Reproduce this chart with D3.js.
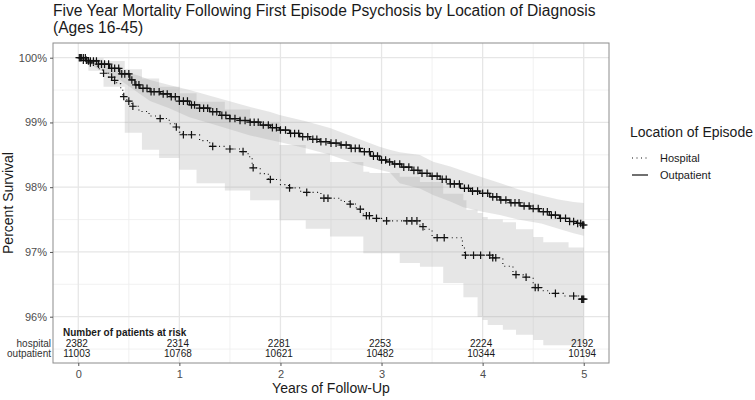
<!DOCTYPE html>
<html><head><meta charset="utf-8">
<script src="https://cdn.jsdelivr.net/npm/d3@7"></script>
<style>body{margin:0;background:#fff}svg{font-family:"Liberation Sans",Arial,sans-serif}</style>
</head><body><svg id="c" width="755" height="400"></svg>
<script>
// ---- data ----
const xTicks = [0, 1, 2, 3, 4, 5];
const yTicks = [96, 97, 98, 99, 100];
const seriesNames = ["Hospital", "Outpatient"];
const riskGroups = ["hospital", "outpatient"];
const riskHospital = [2382, 2314, 2281, 2253, 2224, 2192];
const riskOutpatient = [11003, 10768, 10621, 10482, 10344, 10194];

const hospT = [0,0.05,0.1,0.15,0.2,0.24,0.3,0.34,0.38,0.42,0.44,0.48,0.53,0.6,0.7,0.78,0.9,0.96,1.0,1.03,1.2,1.3,1.45,1.6,1.68,1.72,1.8,1.88,2.0,2.08,2.2,2.4,2.6,2.68,2.75,2.82,2.9,3.0,3.38,3.42,3.5,3.8,3.82,4.1,4.2,4.3,4.4,4.5,4.6,4.65,4.8,4.95,5.0];
const hospS = [100,99.96,99.92,99.87,99.83,99.76,99.70,99.65,99.60,99.52,99.40,99.33,99.25,99.17,99.10,99.06,98.98,98.93,98.85,98.81,98.72,98.63,98.59,98.55,98.47,98.30,98.21,98.12,98.04,97.99,97.92,97.83,97.78,97.74,97.66,97.56,97.52,97.48,97.39,97.35,97.22,97.09,96.95,96.91,96.78,96.65,96.61,96.45,96.40,96.36,96.32,96.27,96.27];

const outT = [0,0.1,0.2,0.31,0.41,0.51,0.56,0.61,0.71,0.81,0.91,1.0,1.1,1.2,1.3,1.4,1.5,1.6,1.7,1.8,1.9,1.99,2.09,2.19,2.29,2.39,2.49,2.59,2.69,2.79,2.89,2.98,3.05,3.11,3.2,3.3,3.38,3.48,3.58,3.68,3.78,3.88,3.97,4.07,4.17,4.27,4.37,4.47,4.56,4.66,4.76,4.86,4.93,4.99,5.0];
const outS = [100,99.95,99.9,99.836,99.75,99.656,99.58,99.527,99.475,99.44,99.398,99.33,99.27,99.22,99.166,99.11,99.06,99.03,99.004,98.96,98.92,98.883,98.83,98.78,98.74,98.703,98.68,98.652,98.60,98.548,98.48,98.42,98.39,98.358,98.31,98.26,98.215,98.17,98.122,98.05,97.983,97.94,97.906,97.85,97.802,97.76,97.71,97.67,97.622,97.57,97.52,97.47,97.44,97.416,97.416];

const outBandT = [0,0.2,0.41,0.6,0.71,0.9,1.1,1.4,1.7,1.9,1.99,2.25,2.49,2.75,2.98,3.08,3.18,3.38,3.51,3.68,3.81,4.0,4.17,4.35,4.58,4.75,4.9,5.0];
const outLo = [100,99.82,99.66,99.45,99.33,99.22,99.08,98.94,98.80,98.73,98.70,98.60,98.50,98.36,98.27,98.23,98.06,97.98,97.88,97.78,97.69,97.62,97.57,97.50,97.44,97.36,97.29,97.25];
const outHi = [100,99.97,99.81,99.72,99.656,99.58,99.50,99.37,99.24,99.16,99.115,99.02,98.914,98.76,98.625,98.58,98.54,98.497,98.394,98.32,98.25,98.15,98.065,97.97,97.87,97.81,97.77,97.756];

const hospBandT = [0,0.1,0.25,0.46,0.63,0.8,1.0,1.17,1.45,1.7,1.99,2.25,2.49,2.82,2.88,3.18,3.38,3.61,3.81,3.84,3.95,4.0,4.05,4.2,4.33,4.5,4.6,4.85,5.0];
const hospLo = [100,99.8,99.55,98.84,98.58,98.45,98.27,98.06,97.95,97.80,97.49,97.36,97.24,96.98,96.98,96.83,96.77,96.52,96.30,96.30,96.0,95.95,95.87,95.8,95.72,95.64,95.56,95.56,95.56];
const hospHi = [100,99.99,99.95,99.82,99.68,99.55,99.45,99.32,99.2,99.0,98.65,98.52,98.39,98.24,98.22,98.16,98.08,97.9,97.80,97.65,97.6,97.54,97.5,97.46,97.35,97.23,97.15,97.07,97.03];

const hospCensor = [0.02,0.05,0.08,0.12,0.25,0.33,0.36,0.45,0.5,0.54,0.81,0.97,1.04,1.12,1.33,1.5,1.63,1.73,1.9,2.09,2.26,2.43,2.47,2.69,2.79,2.85,2.88,2.95,3.05,3.25,3.3,3.35,3.41,3.55,3.62,3.83,3.91,3.98,4.07,4.1,4.13,4.33,4.43,4.52,4.55,4.72,4.9,4.98,4.99,5.0];
const outCensor = [0.01,0.03,0.05,0.07,0.1,0.12,0.15,0.18,0.2,0.23,0.26,0.3,0.33,0.36,0.4,0.43,0.46,0.5,0.53,0.57,0.6,0.64,0.68,0.72,0.75,0.8,0.84,0.88,0.92,0.96,1.0,1.04,1.08,1.12,1.15,1.2,1.24,1.28,1.33,1.37,1.42,1.46,1.5,1.55,1.6,1.65,1.7,1.74,1.78,1.83,1.88,1.92,1.96,2.0,2.05,2.1,2.14,2.18,2.22,2.27,2.32,2.36,2.4,2.45,2.5,2.55,2.6,2.65,2.7,2.74,2.78,2.83,2.88,2.92,2.96,3.0,3.04,3.08,3.13,3.18,3.22,3.27,3.32,3.36,3.4,3.45,3.5,3.55,3.6,3.64,3.68,3.72,3.77,3.82,3.86,3.9,3.95,4.0,4.05,4.1,4.14,4.18,4.23,4.28,4.32,4.36,4.41,4.46,4.5,4.55,4.6,4.64,4.68,4.72,4.77,4.82,4.86,4.9,4.94,4.97,4.99,5.0];

// ---- layout ----
const svg = d3.select("#c");
const L = 53, R = 609, T = 43, B = 363;
const x = d3.scaleLinear().domain([-0.25, 5.25]).range([L, R]);
const y = d3.scaleLinear().domain([95.285, 100.227]).range([B, T]);

svg.append("rect").attr("width",755).attr("height",400).attr("fill","#fff");

// grid
const g = svg.append("g");
const minorX = d3.range(-0.5, 5.5, 1).filter(v => v > -0.25);
const minorY = [95.5, 96.5, 97.5, 98.5, 99.5];
g.selectAll(".mx").data(minorX).join("line").attr("x1",d=>x(d)).attr("x2",d=>x(d)).attr("y1",T).attr("y2",B).attr("stroke","#ededed").attr("stroke-width",0.8);
g.selectAll(".my").data(minorY).join("line").attr("y1",d=>y(d)).attr("y2",d=>y(d)).attr("x1",L).attr("x2",R).attr("stroke","#ededed").attr("stroke-width",0.8);
g.selectAll(".gx").data(xTicks).join("line").attr("x1",d=>x(d)).attr("x2",d=>x(d)).attr("y1",T).attr("y2",B).attr("stroke","#e6e6e6").attr("stroke-width",1.3);
g.selectAll(".gy").data(yTicks).join("line").attr("y1",d=>y(d)).attr("y2",d=>y(d)).attr("x1",L).attr("x2",R).attr("stroke","#e6e6e6").attr("stroke-width",1.3);

// bands
function band(Ts, lo, hi, curve) {
  const d = Ts.map((t,i)=>({t, lo: lo[i], hi: hi[i]}));
  return d3.area().curve(curve).x(p=>x(p.t)).y0(p=>y(p.lo)).y1(p=>y(p.hi))(d);
}
svg.append("path").attr("d", band(hospBandT, hospLo, hospHi, d3.curveStepAfter)).attr("fill","#9a9a9a").attr("fill-opacity",0.25);
svg.append("path").attr("d", band(outBandT, outLo, outHi, d3.curveLinear)).attr("fill","#9a9a9a").attr("fill-opacity",0.25);

// curves
const line = d3.line().curve(d3.curveStepAfter).x(p=>x(p[0])).y(p=>y(p[1]));
svg.append("path").attr("d", line(hospT.map((t,i)=>[t,hospS[i]]))).attr("fill","none").attr("stroke","#111").attr("stroke-width",1.1).attr("stroke-dasharray","1,3.5");
svg.append("path").attr("d", line(outT.map((t,i)=>[t,outS[i]]))).attr("fill","none").attr("stroke","#111").attr("stroke-width",1.3);

function stepVal(Ts, S, t) { const i = d3.bisectRight(Ts, t) - 1; return S[Math.max(0, i)]; }
function plus(sel, data, Ts, S) {
  sel.selectAll(null).data(data).join("path")
    .attr("d", t => { const cx = x(t), cy = y(stepVal(Ts,S,t)); return `M${cx-3.8},${cy}H${cx+3.8}M${cx},${cy-3.8}V${cy+3.8}`; })
    .attr("stroke","#111").attr("stroke-width",1.2).attr("fill","none");
}
plus(svg.append("g"), hospCensor, hospT, hospS);
plus(svg.append("g"), outCensor, outT, outS);

// risk table
const tbl = svg.append("g").attr("font-size",10).attr("fill","#1a1a1a");
tbl.append("text").attr("x",63).attr("y",335.5).attr("font-weight","bold").text("Number of patients at risk");
[riskHospital, riskOutpatient].forEach((arr, k) => {
  tbl.selectAll(null).data(arr).join("text").attr("x",(d,i)=>x(xTicks[i]) - 1.5).attr("y", k===0 ? 347.3 : 357).attr("text-anchor","middle").text(d=>d);
  tbl.append("text").attr("x",51).attr("y", k===0 ? 347.3 : 357).attr("text-anchor","end").attr("fill","#333").text(riskGroups[k]);
});

// border
svg.append("rect").attr("x",L).attr("y",T).attr("width",R-L).attr("height",B-T).attr("fill","none").attr("stroke","#8c8c8c").attr("stroke-width",1);

// axes
const ya = svg.append("g").attr("transform",`translate(${L},0)`).call(d3.axisLeft(y).tickValues(yTicks).tickFormat(d=>d+"%").tickSize(3).tickPadding(3));
const xa = svg.append("g").attr("transform",`translate(0,${B})`).call(d3.axisBottom(x).tickValues(xTicks).tickFormat(d3.format("d")).tickSize(3).tickPadding(4));
[ya, xa].forEach(a => {
  a.attr("color","#4d4d4d");
  a.select(".domain").remove();
  a.selectAll("line").attr("stroke","#555");
  a.selectAll("text").attr("fill","#4d4d4d").attr("font-size",11).attr("font-family","Liberation Sans, Arial, sans-serif");
});

// titles
svg.append("text").attr("x",53).attr("y",15.5).attr("font-size",15.6).attr("fill","#1a1a1a").text("Five Year Mortality Following First Episode Psychosis by Location of Diagnosis");
svg.append("text").attr("x",53).attr("y",33).attr("font-size",15.6).attr("fill","#1a1a1a").text("(Ages 16-45)");
svg.append("text").attr("transform","translate(13,203) rotate(-90)").attr("text-anchor","middle").attr("font-size",14).attr("fill","#1a1a1a").text("Percent Survival");
svg.append("text").attr("x",(L+R)/2).attr("y",393).attr("text-anchor","middle").attr("font-size",14).attr("fill","#1a1a1a").text("Years of Follow-Up");

// legend
const lg = svg.append("g");
lg.append("text").attr("x",630).attr("y",137).attr("font-size",14).attr("fill","#1a1a1a").text("Location of Episode");
const dashes = ["1,3.5", null];
seriesNames.forEach((s, i) => {
  const cy = 158 + i * 17;
  const ln = lg.append("line").attr("x1",632).attr("x2",648).attr("y1",cy).attr("y2",cy).attr("stroke","#111").attr("stroke-width",1.2);
  if (dashes[i]) ln.attr("stroke-dasharray", dashes[i]);
  lg.append("text").attr("x",660).attr("y",cy+4).attr("font-size",11).attr("fill","#1a1a1a").text(s);
});
</script></body></html>
